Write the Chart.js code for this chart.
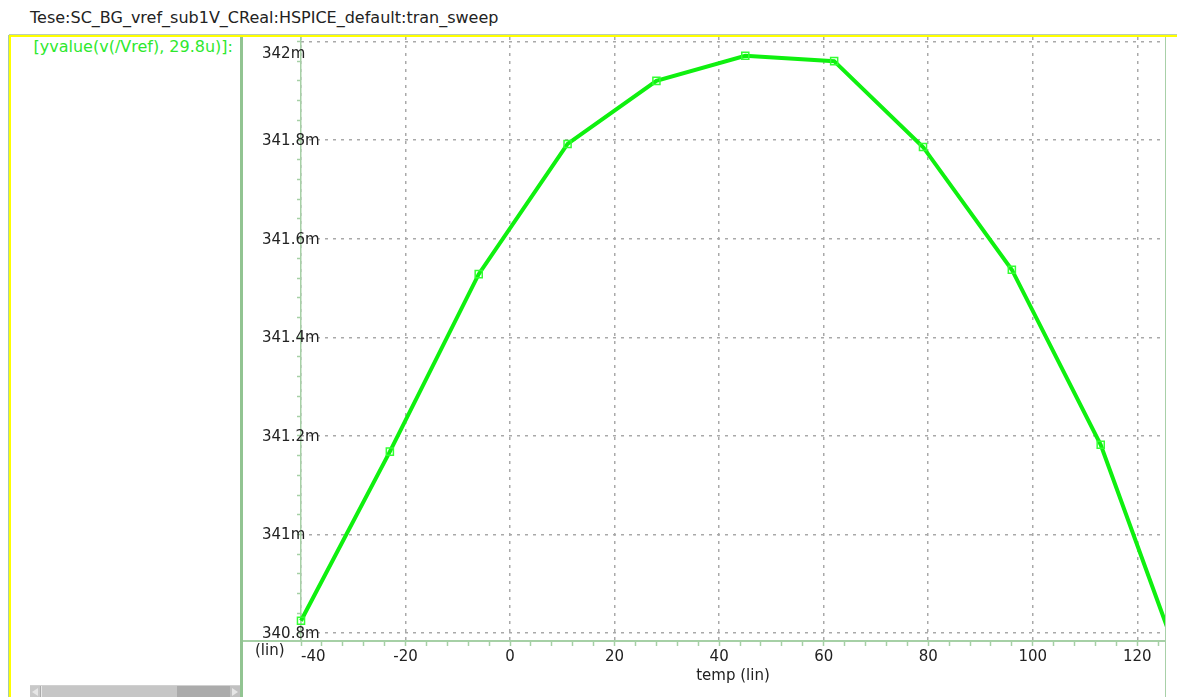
<!DOCTYPE html>
<html>
<head>
<meta charset="utf-8">
<script src="https://cdn.jsdelivr.net/npm/chart.js@4"></script>
<style>
    body {
        margin: 0;
        width: 1177px;
        height: 697px;
        position: relative;
        overflow: hidden;
        background: #fff;
        font-family: "DejaVu Sans", sans-serif;
    }
    .abs { position: absolute; }
    #title { left: 30px; top: 9px; font-size: 16px; line-height: 18px; color: #222; white-space: nowrap; }
    #legend { right: 944px; top: 38px; font-size: 16px; line-height: 18px; color: #2ee82e; white-space: nowrap; }
    #plot { left: 243px; top: 37px; }
</style>
</head>
<body>
<div id="title" class="abs">Tese:SC_BG_vref_sub1V_CReal:HSPICE_default:tran_sweep</div>

<!-- window frame -->
<div class="abs" style="left:9px;top:34px;width:1168px;height:1px;background:#b9cdb9"></div>
<div class="abs" style="left:9px;top:35px;width:1168px;height:2px;background:#ffff00"></div>
<div class="abs" style="left:8px;top:35px;width:1px;height:662px;background:#a8cca8"></div>
<div class="abs" style="left:9px;top:35px;width:2px;height:662px;background:#ffff00"></div>
<div class="abs" style="left:240px;top:37px;width:3px;height:660px;background:#92c492"></div>
<div class="abs" style="left:1165px;top:37px;width:1px;height:660px;background:#a8d0a8"></div>

<div id="legend" class="abs">[yvalue(v(/Vref), 29.8u)]:</div>

<!-- scrollbar under the signal list -->
<div class="abs" style="left:30px;top:685px;width:210px;height:12px;background:#ababab;border-top:1px solid #d0d0d0"></div>
<div class="abs" style="left:30px;top:686px;width:10px;height:11px;background:#c8c8c8"></div>
<div class="abs" style="left:32px;top:688px;width:0;height:0;border-top:4px solid transparent;border-bottom:4px solid transparent;border-right:6px solid #e6e6e6"></div>
<div class="abs" style="left:41px;top:686px;width:135px;height:11px;background:#c6c6c6;border-left:1px solid #e8e8e8"></div>
<div class="abs" style="left:230px;top:686px;width:10px;height:11px;background:#c0c0c0"></div>
<div class="abs" style="left:232px;top:688px;width:0;height:0;border-top:4px solid transparent;border-bottom:4px solid transparent;border-left:6px solid #e6e6e6"></div>

<canvas id="plot" class="abs" width="922" height="660"></canvas>

<script>
// sweep points: temperature (C) and Vref at 29.8us (mV)
const temps = [-40, -23, -6, 11, 28, 45, 62, 79, 96, 113, 130];
const vrefMilli = [340.825, 341.168, 341.528, 341.792, 341.920, 341.971, 341.960, 341.786, 341.537, 341.182, 340.687];

const xRange = [-40, 125.3];
const yRange = [340.786, 342.009];
const xMajor = 20, xMinor = 4;
const yMajor = 0.2, yMinor = 0.04;

const traceColor = "#0ff00f";
const axisGreen = "#a6d0a6";
const FONT = '15px "DejaVu Sans"';

function mLabel(v) {
    return `${+v.toFixed(3)}m`;
}

// tick labels and axis titles, placed like the waveform viewer does
const axisText = {
    id: "axisText",
    beforeDatasetsDraw(chart) {
        const { ctx, chartArea } = chart;
        ctx.save();
        ctx.strokeStyle = axisGreen;
        ctx.lineWidth = 2;
        ctx.beginPath();
        ctx.moveTo(0, chartArea.bottom + 1);
        ctx.lineTo(chartArea.right, chartArea.bottom + 1);
        ctx.stroke();
        ctx.restore();
    },
    afterDraw(chart) {
        const { ctx, chartArea, scales } = chart;
        ctx.save();
        ctx.font = FONT;
        ctx.fillStyle = "#222";
        ctx.textBaseline = "middle";
        ctx.textAlign = "left";

        scales.y.ticks.forEach((t) => {
            const y = Math.max(scales.y.getPixelForValue(t.value) + 1, chartArea.top + 17);
            ctx.fillText(mLabel(t.value), 19, y);
        });

        scales.x.ticks.forEach((t) => {
            const label = String(t.value);
            const w = ctx.measureText(label).width;
            const x = Math.max(scales.x.getPixelForValue(t.value) - w / 2, chartArea.left);
            ctx.fillText(label, x, chartArea.bottom + 17);
        });

        ctx.fillText("(lin)", 12, chartArea.bottom + 11);
        ctx.textAlign = "center";
        ctx.fillText("temp (lin)", (chartArea.left + chartArea.right) / 2, chartArea.bottom + 36);
        ctx.restore();
    }
};

const dotted = {
    display: true,
    drawTicks: false,
    color: "#a9a9a9",
    lineWidth: 1.5,
};

new Chart(document.getElementById("plot"), {
    type: "line",
    data: {
        datasets: [{
            data: temps.map((t, i) => ({ x: t, y: vrefMilli[i] })),
            borderColor: traceColor,
            borderWidth: 4,
            tension: 0,
            pointStyle: "rect",
            pointRadius: 5,
            pointBackgroundColor: "rgba(0,0,0,0)",
            pointBorderColor: "#33ff33",
            pointBorderWidth: 1.5,
            clip: { left: 8, top: 8, right: 0, bottom: 8 },
        }]
    },
    options: {
        responsive: false,
        animation: false,
        layout: { padding: 0, autoPadding: false },
        plugins: {
            legend: { display: false },
            tooltip: { enabled: false },
        },
        scales: {
            x: {
                type: "linear",
                position: "bottom",
                min: xRange[0],
                max: xRange[1],
                ticks: { display: false, stepSize: xMajor, includeBounds: false },
                grid: dotted,
                border: { display: false, dash: [3, 5] },
                afterFit: (s) => { s.height = 0; },
            },
            xm: {
                type: "linear",
                position: "bottom",
                min: xRange[0],
                max: xRange[1],
                ticks: { display: false, stepSize: xMinor, includeBounds: false },
                grid: { drawOnChartArea: false, drawTicks: true, tickLength: 6, tickColor: axisGreen, tickWidth: 1.5 },
                border: { display: false },
                afterFit: (s) => { s.height = 57; },
            },
            y: {
                type: "linear",
                position: "left",
                min: yRange[0],
                max: yRange[1],
                ticks: { display: false, stepSize: yMajor, includeBounds: false },
                grid: dotted,
                border: { display: false, dash: [3, 5] },
                afterFit: (s) => { s.width = 0; },
            },
            ym: {
                type: "linear",
                position: "left",
                min: yRange[0],
                max: yRange[1],
                ticks: { display: false, stepSize: yMinor, includeBounds: false },
                grid: { drawOnChartArea: false, drawTicks: true, tickLength: 4, tickColor: axisGreen, tickWidth: 1.5 },
                border: { display: true, color: axisGreen, width: 1.5 },
                afterFit: (s) => { s.width = 58; },
            },
        }
    },
    plugins: [axisText]
});
</script>
</body>
</html>
